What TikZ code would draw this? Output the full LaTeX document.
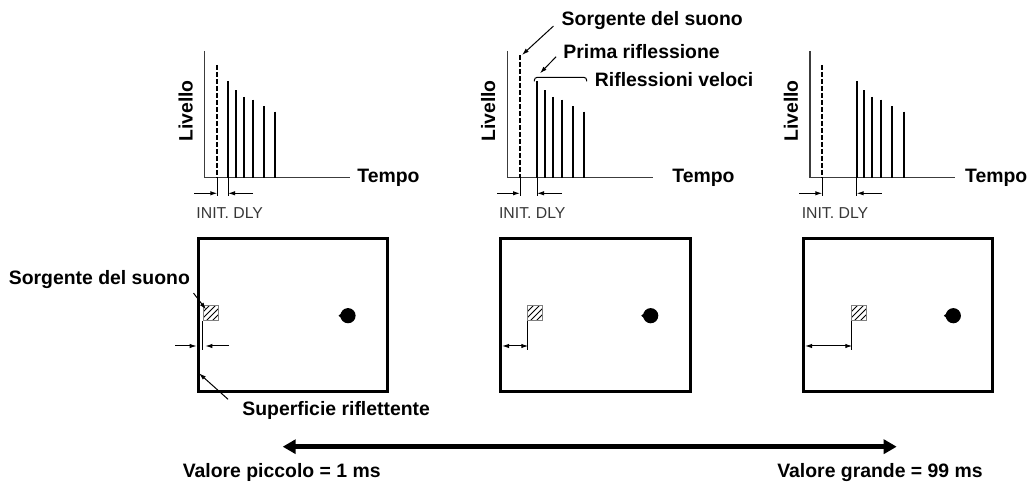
\documentclass[tikz,border=0pt]{standalone}
\usepackage{fontspec}
\setsansfont{Liberation Sans}
\usepackage{tikz}
\usetikzlibrary{arrows.meta, positioning, calc, patterns}
\usepackage{xcolor}
\definecolor{axisgray}{RGB}{60,60,60}
\definecolor{textgray}{RGB}{55,55,55}

\begin{document}
\begin{tikzpicture}[x=0.5pt, y=-0.5pt,
    lbl/.style={font=\fontsize{9.7}{11}\selectfont\sffamily\bfseries, inner sep=1pt},
    smalllbl/.style={font=\fontsize{7.9}{9}\selectfont\sffamily, text=textgray, inner sep=1pt},
    axisline/.style={axisgray, line width=0.7pt},
    refl/.style={line width=1pt},
    direct/.style={line width=1pt, dash pattern=on 2.5pt off 1pt},
    thinline/.style={line width=0.5pt},
    dimarrow/.style={line width=0.5pt, -{Latex[length=3.5pt,width=2.2pt]}},
    dimboth/.style={line width=0.5pt, {Latex[length=3.5pt,width=2.2pt]}-{Latex[length=3.5pt,width=2.2pt]}},
    ptr/.style={line width=0.5pt, -{Latex[length=3.5pt,width=2.2pt]}},
    room/.style={line width=1.5pt},
    srcbox/.style={draw=gray, line width=0.4pt, pattern=north east lines, minimum size=7.5pt, inner sep=0pt},
    bigarrow/.style={line width=2.5pt, {Triangle[length=6.5pt,width=7pt]}-{Triangle[length=6.5pt,width=7pt]}}]
  \useasboundingbox (0,0) rectangle (1027,485);

  % time charts
  \foreach \ax/\dx/\dt/\fx/\ex/\tx/\n in {204.7/217.3/65/228/350/355/a, 507.3/520/55/537/653.3/670/b, 810/822.3/65/856.7/955/962.7/c} {
    \draw[axisline] (\ax,51) -- (\ax,177.7) -- (\ex,177.7);
    \node[lbl, anchor=west] (tempo\n) at (\tx,178) {Tempo};
    \node[lbl, rotate=90] (liv\n) at (\ax-19,111) {Livello};
    \draw[direct] (\dx,\dt) -- (\dx,177.7);
    \foreach \o/\t in {0/81, 7.5/90.3, 15.7/97, 24.6/99.7, 35.7/106.3, 47.3/111.7}
      \draw[refl] (\fx+\o,\t) -- (\fx+\o,177.7);
    \draw[thinline] (\dx,177.7) -- (\dx,196);
    \draw[thinline] (\fx,177.7) -- (\fx,196);
    \draw[dimarrow] (\dx-23,193.3) -- (\dx,193.3);
    \draw[dimarrow] (\fx+25,193.3) -- (\fx,193.3);
    \node[smalllbl] (dly\n) at (\ax+25,213) {INIT. DLY};
  }

  % labels on the middle chart
  \node[lbl, anchor=west] (srcl) at (559.3,20.7) {Sorgente del suono};
  \coordinate (srctip) at (522,55);
  \draw[ptr, shorten <=4pt] (srcl.west) -- (srctip);
  \node[lbl, anchor=west] (firstl) at (561,51.7) {Prima riflessione};
  \coordinate (firsttip) at (540,73.3);
  \draw[ptr, shorten <=3.5pt] (firstl.west) -- (firsttip);
  \draw[thinline, rounded corners=1.5pt] (534.3,81.5) -- (534.3,77.3) -- (586.7,77.3) -- (586.7,81.5);
  \node[lbl, anchor=west] (earlyl) at (592.5,80) {Riflessioni veloci};

  % rooms
  \foreach \rx/\sx/\n in {198/203.3/a, 500.7/527.7/b, 803.3/851.7/c} {
    \draw[room] (\rx,238.3) rectangle (\rx+189.3,391.8);
    \node[srcbox] (sq\n) at (\sx+7.5,313.3) {};
    \draw[thinline] (sq\n.south west) -- ++(0,29);
    \fill (\rx+150,315.7) circle[radius=3.8pt];
    \fill (\rx+140.5,315.7) -- (\rx+145,312) -- (\rx+145,319.4) -- cycle;
  }
  \draw[dimarrow] (175,346) -- (196.7,346);
  \draw[dimarrow] (229,346) -- (205.3,346);
  \draw[dimboth] (502,346) -- (528.3,346);
  \draw[dimboth] (805,346) -- (852.3,346);

  \node[lbl, anchor=east] (lsrc) at (192.3,280) {Sorgente del suono};
  \coordinate (lsrctip) at (206,309.5);
  \draw[ptr, shorten <=1pt] (lsrc.south east) -- (lsrctip);
  \node[lbl, anchor=west] (wall) at (240,410) {Superficie riflettente};
  \coordinate (walltip) at (199,373.3);
  \draw[ptr, shorten <=8pt] (wall.west) -- (walltip);

  % range arrow
  \coordinate (lo) at (282.7,446.7);
  \coordinate (hi) at (896.7,446.7);
  \draw[bigarrow] (lo) -- (hi);
  \node[lbl] (lov) at (281.7,472.7) {Valore piccolo = 1 ms};
  \node[lbl] (hiv) at (880,472.7) {Valore grande = 99 ms};
\end{tikzpicture}
\end{document}
